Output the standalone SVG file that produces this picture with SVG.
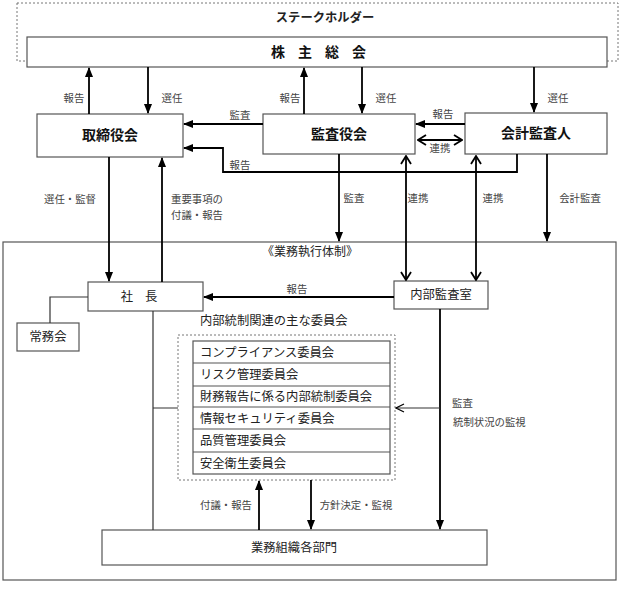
<svg xmlns="http://www.w3.org/2000/svg" width="623" height="589" viewBox="0 0 623 589">
<style>
.box{fill:#fff;stroke:#555;stroke-width:1.2}
.dot{fill:none;stroke:#777;stroke-width:1;stroke-dasharray:2 2}
.ln{fill:none;stroke:#000;stroke-width:1.8}
.thin{fill:none;stroke:#333;stroke-width:1.2}
.t{font-family:"Noto Sans CJK JP","Noto Sans",sans-serif;fill:#222}
.big{font-size:14px;font-weight:bold;text-anchor:middle;fill:#111}
.mid{font-size:12.3px;text-anchor:middle}
.lab{font-size:10.4px;fill:#444}
.c{text-anchor:middle}
.row{font-size:12.3px}
</style>
<defs>
<marker id="tri" markerWidth="10" markerHeight="8" refX="9" refY="4" orient="auto" markerUnits="userSpaceOnUse">
<path d="M0,0 L10,4 L0,8 Z" fill="#000"/>
</marker>
<marker id="chev" markerWidth="10" markerHeight="12" refX="9" refY="6" orient="auto-start-reverse" markerUnits="userSpaceOnUse">
<path d="M1,1 L9,6 L1,11" fill="none" stroke="#000" stroke-width="1.8"/>
</marker>
<marker id="chevs" markerWidth="10" markerHeight="10" refX="9" refY="5" orient="auto" markerUnits="userSpaceOnUse">
<path d="M1,1 L9,5 L1,9" fill="none" stroke="#000" stroke-width="1.2"/>
</marker>
</defs>

<g id="stakeholder">
<rect class="dot" x="17" y="3" width="601" height="58"/>
<text class="t mid" x="325" y="22" style="font-weight:bold">ステークホルダー</text>
</g>
<g id="shareholders">
<rect class="box" x="27" y="37" width="580" height="30"/>
<text class="t big" x="325" y="57" style="letter-spacing:13px">株主総会</text>
</g>
<g id="board">
<rect class="box" x="37" y="114" width="146" height="43"/>
<text class="t big" x="110" y="140">取締役会</text>
</g>
<g id="auditors">
<rect class="box" x="263" y="114" width="152" height="40"/>
<text class="t big" x="339" y="139">監査役会</text>
</g>
<g id="accounting-auditor">
<rect class="box" x="465" y="113" width="142" height="41"/>
<text class="t big" x="536" y="138">会計監査人</text>
</g>
<g id="execution">
<rect class="box" x="3" y="242" width="613" height="338" style="fill:none"/>
<text class="t" x="262" y="256" style="font-size:12px">《業務執行体制》</text>
</g>
<g id="president">
<rect class="box" x="88" y="282" width="115" height="29"/>
<text class="t mid" x="145" y="301" style="letter-spacing:12px">社長</text>
</g>
<g id="executive-committee">
<rect class="box" x="17" y="323" width="62" height="28"/>
<text class="t mid" x="48" y="341">常務会</text>
</g>
<g id="internal-audit">
<rect class="box" x="394" y="281" width="94" height="28"/>
<text class="t mid" x="441" y="299">内部監査室</text>
</g>
<g id="committees">
<text class="t" x="200" y="325" style="font-size:12.3px">内部統制関連の主な委員会</text>
<rect class="dot" x="178" y="335" width="217" height="145"/>
<rect class="box" x="193" y="341" width="197" height="133"/>
<path class="thin" d="M193,363H390M193,386H390M193,407H390M193,429H390M193,452H390" style="stroke:#555"/>
<text class="t row" x="200" y="357">コンプライアンス委員会</text>
<text class="t row" x="200" y="379">リスク管理委員会</text>
<text class="t row" x="200" y="401">財務報告に係る内部統制委員会</text>
<text class="t row" x="200" y="423">情報セキュリティ委員会</text>
<text class="t row" x="200" y="445">品質管理委員会</text>
<text class="t row" x="200" y="468">安全衛生委員会</text>
</g>
<g id="departments">
<rect class="box" x="102" y="530" width="385" height="35"/>
<text class="t mid" x="294" y="552">業務組織各部門</text>
</g>

<g id="connectors">
<path class="ln" d="M89,114V68" marker-end="url(#tri)"/>
<path class="ln" d="M148,67V113" marker-end="url(#tri)"/>
<path class="ln" d="M304,114V68" marker-end="url(#tri)"/>
<path class="ln" d="M362,67V113" marker-end="url(#tri)"/>
<path class="ln" d="M534,67V112" marker-end="url(#tri)"/>
<path class="ln" d="M263,124H184" marker-end="url(#tri)"/>
<path class="ln" d="M465,124H416" marker-end="url(#tri)"/>
<path class="ln" d="M418,140H462" marker-start="url(#chev)" marker-end="url(#chev)"/>
<path class="ln" d="M517,154V172H223V148H184" marker-end="url(#tri)"/>
<path class="ln" d="M109,157V281" marker-end="url(#tri)"/>
<path class="ln" d="M162,282V158" marker-end="url(#tri)"/>
<path class="ln" d="M339,154V241" marker-end="url(#tri)"/>
<path class="ln" d="M406,156V280" marker-start="url(#chev)" marker-end="url(#chev)"/>
<path class="ln" d="M476,156V280" marker-start="url(#chev)" marker-end="url(#chev)"/>
<path class="ln" d="M547,154V241" marker-end="url(#tri)"/>
<path class="ln" d="M394,297H204" marker-end="url(#tri)"/>
<path class="thin" d="M88,297H50V323"/>
<path class="thin" d="M153,311V530M153,408H178"/>
<path class="ln" d="M440,309V529" marker-end="url(#tri)"/>
<path class="thin" d="M440,408H396" marker-end="url(#chevs)"/>
<path class="ln" d="M259,530V481" marker-end="url(#tri)"/>
<path class="ln" d="M311,480V529" marker-end="url(#tri)"/>
</g>

<g id="labels">
<text class="t lab c" x="74" y="102">報告</text>
<text class="t lab c" x="172" y="102">選任</text>
<text class="t lab c" x="290" y="102">報告</text>
<text class="t lab c" x="386" y="102">選任</text>
<text class="t lab c" x="558" y="102">選任</text>
<text class="t lab c" x="240" y="119">監査</text>
<text class="t lab c" x="443" y="118">報告</text>
<text class="t lab c" x="440" y="152">連携</text>
<text class="t lab c" x="240" y="169">報告</text>
<text class="t lab c" x="70" y="203">選任・監督</text>
<text class="t lab" x="171" y="203">重要事項の</text>
<text class="t lab" x="171" y="219">付議・報告</text>
<text class="t lab c" x="354" y="202">監査</text>
<text class="t lab c" x="418" y="202">連携</text>
<text class="t lab c" x="493" y="202">連携</text>
<text class="t lab c" x="580" y="202">会計監査</text>
<text class="t lab c" x="297" y="293">報告</text>
<text class="t lab" x="452" y="407">監査</text>
<text class="t lab" x="453" y="426">統制状況の監視</text>
<text class="t lab c" x="226" y="509">付議・報告</text>
<text class="t lab c" x="356" y="509">方針決定・監視</text>
</g>
</svg>
